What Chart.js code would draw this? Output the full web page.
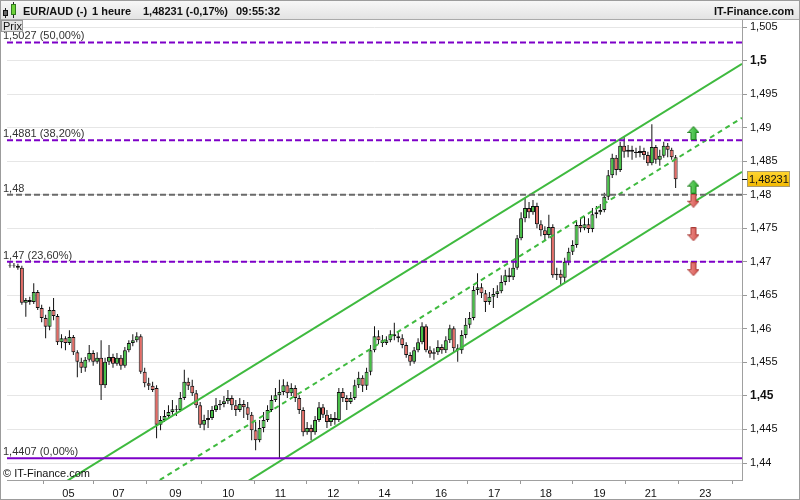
<!DOCTYPE html>
<html><head><meta charset="utf-8">
<script src="https://cdn.jsdelivr.net/npm/chart.js@4.4.0/dist/chart.umd.min.js"></script>
<style>html,body{margin:0;padding:0;background:#fff;}#wrap{width:800px;height:500px;position:relative;}canvas{display:block;}</style>
</head><body><div id="wrap"><canvas id="c" width="800" height="500"></canvas></div>
<script>
const opens=[1.4694,1.4695,1.4694,1.4691,1.4639,1.4643,1.4640,1.4655,1.4631,1.4616,
1.4603,1.4628,1.4619,1.4580,1.4586,1.4579,1.4588,1.4565,1.4551,1.4542,
1.4554,1.4564,1.4551,1.4557,1.4516,1.4551,1.4558,1.4548,1.4557,1.4545,
1.4568,1.4579,1.4583,1.4589,1.4536,1.4519,1.4515,1.4512,1.4457,1.4464,
1.4470,1.4476,1.4480,1.4479,1.4497,1.4521,1.4515,1.4504,1.4486,1.4457,
1.4464,1.4467,1.4479,1.4486,1.4488,1.4492,1.4497,1.4486,1.4479,1.4488,
1.4483,1.4472,1.4449,1.4434,1.4452,1.4464,1.4479,1.4494,1.4501,1.4506,
1.4516,1.4504,1.4512,1.4497,1.4479,1.4446,1.4452,1.4446,1.4464,1.4483,
1.4472,1.4461,1.4467,1.4464,1.4506,1.4497,1.4491,1.4497,1.4516,1.4527,
1.4515,1.4536,1.4568,1.4589,1.4583,1.4579,1.4583,1.4592,1.4589,1.4586,
1.4576,1.4561,1.4551,1.4568,1.4580,1.4604,1.4568,1.4563,1.4565,1.4573,
1.4568,1.4583,1.4601,1.4571,1.4568,1.4591,1.4606,1.4616,1.4658,1.4662,
1.4653,1.4640,1.4648,1.4652,1.4656,1.4670,1.4680,1.4677,1.4691,1.4735,
1.4765,1.4780,1.4774,1.4783,1.4756,1.4747,1.4740,1.4752,1.4680,1.4682,
1.4676,1.4700,1.4715,1.4725,1.4755,1.4750,1.4756,1.4749,1.4771,1.4774,
1.4777,1.4797,1.4829,1.4855,1.4837,1.4873,1.4864,1.4867,1.4864,1.4862,
1.4865,1.4859,1.4847,1.4871,1.4852,1.4858,1.4873,1.4867,1.4856];
const highs=[1.4700,1.4698,1.4697,1.4694,1.4646,1.4648,1.4668,1.4658,1.4636,1.4621,
1.4633,1.4646,1.4622,1.4592,1.4589,1.4598,1.4591,1.4568,1.4557,1.4558,
1.4576,1.4568,1.4565,1.4583,1.4557,1.4576,1.4563,1.4564,1.4561,1.4573,
1.4583,1.4592,1.4595,1.4592,1.4542,1.4527,1.4521,1.4516,1.4470,1.4479,
1.4486,1.4494,1.4486,1.4506,1.4539,1.4527,1.4524,1.4509,1.4491,1.4472,
1.4479,1.4485,1.4497,1.4494,1.4500,1.4509,1.4501,1.4494,1.4497,1.4494,
1.4491,1.4476,1.4461,1.4464,1.4476,1.4486,1.4501,1.4512,1.4524,1.4525,
1.4521,1.4519,1.4516,1.4501,1.4483,1.4461,1.4457,1.4470,1.4491,1.4488,
1.4479,1.4473,1.4476,1.4512,1.4512,1.4501,1.4506,1.4524,1.4536,1.4531,
1.4542,1.4576,1.4604,1.4598,1.4591,1.4589,1.4598,1.4609,1.4595,1.4592,
1.4580,1.4565,1.4573,1.4586,1.4610,1.4607,1.4574,1.4571,1.4583,1.4577,
1.4589,1.4606,1.4604,1.4577,1.4598,1.4616,1.4625,1.4664,1.4683,1.4668,
1.4658,1.4655,1.4661,1.4665,1.4680,1.4688,1.4691,1.4700,1.4740,1.4774,
1.4795,1.4789,1.4792,1.4788,1.4762,1.4753,1.4770,1.4756,1.4691,1.4688,
1.4706,1.4721,1.4732,1.4762,1.4765,1.4768,1.4765,1.4780,1.4783,1.4786,
1.4803,1.4837,1.4861,1.4859,1.4879,1.4886,1.4874,1.4873,1.4870,1.4873,
1.4870,1.4864,1.4905,1.4874,1.4867,1.4879,1.4877,1.4870,1.4859];
const lows=[1.4691,1.4691,1.4688,1.4636,1.4618,1.4636,1.4637,1.4628,1.4610,1.4586,
1.4598,1.4613,1.4576,1.4571,1.4568,1.4576,1.4561,1.4528,1.4534,1.4536,
1.4551,1.4545,1.4548,1.4494,1.4512,1.4546,1.4542,1.4545,1.4539,1.4542,
1.4565,1.4574,1.4580,1.4533,1.4513,1.4509,1.4506,1.4437,1.4449,1.4461,
1.4467,1.4472,1.4470,1.4476,1.4494,1.4509,1.4500,1.4482,1.4452,1.4449,
1.4452,1.4464,1.4476,1.4479,1.4483,1.4488,1.4479,1.4470,1.4476,1.4467,
1.4464,1.4434,1.4419,1.4431,1.4446,1.4461,1.4476,1.4491,1.4407,1.4501,
1.4497,1.4500,1.4491,1.4473,1.4440,1.4442,1.4434,1.4442,1.4461,1.4467,
1.4452,1.4455,1.4457,1.4461,1.4491,1.4479,1.4488,1.4494,1.4512,1.4506,
1.4509,1.4531,1.4565,1.4577,1.4573,1.4576,1.4580,1.4583,1.4580,1.4571,
1.4557,1.4545,1.4548,1.4565,1.4577,1.4565,1.4557,1.4554,1.4561,1.4563,
1.4564,1.4579,1.4565,1.4551,1.4563,1.4586,1.4601,1.4613,1.4651,1.4646,
1.4625,1.4636,1.4631,1.4646,1.4653,1.4665,1.4670,1.4673,1.4688,1.4732,
1.4759,1.4765,1.4770,1.4750,1.4738,1.4732,1.4735,1.4676,1.4673,1.4665,
1.4670,1.4695,1.4710,1.4721,1.4744,1.4747,1.4743,1.4744,1.4765,1.4770,
1.4774,1.4792,1.4825,1.4829,1.4834,1.4855,1.4856,1.4852,1.4855,1.4856,
1.4852,1.4843,1.4844,1.4846,1.4843,1.4855,1.4856,1.4852,1.4810];
const closes=[1.4695,1.4694,1.4691,1.4639,1.4643,1.4640,1.4655,1.4631,1.4616,1.4603,
1.4628,1.4619,1.4580,1.4586,1.4579,1.4588,1.4565,1.4551,1.4542,1.4554,
1.4564,1.4551,1.4557,1.4516,1.4551,1.4558,1.4548,1.4557,1.4545,1.4568,
1.4579,1.4583,1.4589,1.4536,1.4519,1.4515,1.4509,1.4457,1.4464,1.4470,
1.4476,1.4480,1.4479,1.4497,1.4521,1.4515,1.4504,1.4486,1.4457,1.4464,
1.4467,1.4479,1.4486,1.4488,1.4492,1.4497,1.4486,1.4479,1.4488,1.4483,
1.4472,1.4449,1.4434,1.4452,1.4464,1.4479,1.4494,1.4501,1.4506,1.4516,
1.4504,1.4512,1.4497,1.4479,1.4446,1.4452,1.4446,1.4464,1.4483,1.4472,
1.4461,1.4467,1.4464,1.4506,1.4497,1.4491,1.4497,1.4516,1.4527,1.4515,
1.4536,1.4568,1.4589,1.4583,1.4579,1.4583,1.4592,1.4589,1.4586,1.4576,
1.4561,1.4551,1.4568,1.4580,1.4604,1.4568,1.4563,1.4565,1.4573,1.4568,
1.4583,1.4601,1.4571,1.4568,1.4591,1.4606,1.4616,1.4658,1.4662,1.4653,
1.4640,1.4648,1.4652,1.4656,1.4670,1.4680,1.4677,1.4691,1.4735,1.4765,
1.4780,1.4774,1.4783,1.4756,1.4747,1.4740,1.4752,1.4680,1.4682,1.4676,
1.4700,1.4715,1.4725,1.4755,1.4750,1.4756,1.4749,1.4771,1.4774,1.4777,
1.4797,1.4829,1.4855,1.4837,1.4873,1.4864,1.4867,1.4864,1.4862,1.4865,
1.4859,1.4847,1.4871,1.4852,1.4858,1.4873,1.4867,1.4856,1.48231];

const dayTickPositions=[14.75,27.4,41.75,55.1,68.25,81.6,94.5,108.8,122.2,135.25,148.8,161.75,175.5];
const dayTickLabels=['05','07','09','10','11','12','14','16','17','18','19','21','23'];
const priceTicks=[1.44,1.445,1.45,1.455,1.46,1.465,1.47,1.475,1.48,1.485,1.49,1.495,1.5,1.505];
const boldTicks=[1.45,1.5];
const fibLevels=[1.5027,1.4881,1.48,1.47,1.4407];
const fibLabels=['1,5027 (50,00%)','1,4881 (38,20%)','1,48','1,47 (23,60%)','1,4407 (0,00%)'];
const fibKinds=['purple','purple','gray','purple','solid'];
const channelX=[-0.75,184.75];
const channelUpper=[1.4318,1.4995];
const channelMid=[1.4233,1.49145];
const channelLower=[1.4148,1.4834];
const signalX=172.5;
const signalPrices=[1.4892,1.4812,1.4791,1.4741,1.4689];
const signalDirs=['up','up','down','down','down'];
const lastPrice=1.48231;
const headerParts=['EUR/AUD (-)','1 heure','1,48231 (-0,17%)','09:55:32'];
const brandText='IT-Finance.com';
const copyText='\u00A9 IT-Finance.com';
const prixText='Prix';

const FONT='"Liberation Sans", Arial, sans-serif';
Chart.defaults.font.family=FONT;

function fmtPrice(v){return String(Number(v.toFixed(5))).replace('.',',');}

function makeArrow(dir){
  const c=document.createElement('canvas');c.width=12;c.height=14;
  const g=c.getContext('2d');
  g.beginPath();
  if(dir==='up'){
    g.moveTo(6,0.5);g.lineTo(11.5,6.5);g.lineTo(8.5,6.5);g.lineTo(8.5,13.5);g.lineTo(3.5,13.5);g.lineTo(3.5,6.5);g.lineTo(0.5,6.5);
  }else{
    g.moveTo(6,13.5);g.lineTo(11.5,7.5);g.lineTo(8.5,7.5);g.lineTo(8.5,0.5);g.lineTo(3.5,0.5);g.lineTo(3.5,7.5);g.lineTo(0.5,7.5);
  }
  g.closePath();
  const gr=g.createLinearGradient(0,0,12,0);
  if(dir==='up'){gr.addColorStop(0,'#7fe07f');gr.addColorStop(1,'#22a822');g.strokeStyle='#1d7f1d';}
  else{gr.addColorStop(0,'#f29a96');gr.addColorStop(1,'#d24c46');g.strokeStyle='#a83a35';}
  g.fillStyle=gr;g.fill();g.lineWidth=1;g.stroke();
  return c;
}
const upImg=makeArrow('up'), downImg=makeArrow('down');

const idx=closes.map((_,i)=>i);
const wickData=idx.map(i=>({x:i,y:[lows[i],highs[i]]}));
const bodyData=idx.map(i=>({x:i,y:[Math.min(opens[i],closes[i]),Math.max(opens[i],closes[i])]}));
const bodyColors=idx.map(i=>closes[i]>=opens[i]?'#45c245':'#e56a64');

const lineDatasets=[];
fibLevels.forEach((lv,k)=>{
  const kind=fibKinds[k];
  lineDatasets.push({type:'line',data:channelX.map(x=>({x:x,y:lv})),
    borderColor:kind==='gray'?'#6a6a6a':'#7d00c8',borderWidth:2,
    borderDash:kind==='solid'?[]:[6,3],pointRadius:0,order:0,borderCapStyle:'butt'});
});
[[channelUpper,[]],[channelMid,[5,4]],[channelLower,[]]].forEach(([arr,dash])=>{
  lineDatasets.push({type:'line',data:channelX.map((x,j)=>({x:x,y:arr[j]})),
    borderColor:'#3fba3f',borderWidth:2,borderDash:dash,pointRadius:0,order:0,borderCapStyle:'butt'});
});

const decor={
  id:'decor',
  beforeDraw(chart){
    const ctx=chart.ctx;ctx.save();
    ctx.fillStyle='#fff';ctx.fillRect(0,0,800,500);
    const g=ctx.createLinearGradient(0,0,0,20);
    g.addColorStop(0,'#f8f8f8');g.addColorStop(1,'#e2e2e2');
    ctx.fillStyle=g;ctx.fillRect(0,0,800,20);
    ctx.fillStyle='#aaaaaa';ctx.fillRect(0,19,800,1);
    ctx.restore();
  },
  afterDatasetsDraw(chart){
    const ctx=chart.ctx,ys=chart.scales.y;ctx.save();
    ctx.font='11px '+FONT;ctx.fillStyle='#333';ctx.textBaseline='alphabetic';ctx.textAlign='left';
    fibLevels.forEach((lv,k)=>{ctx.fillText(fibLabels[k],3,ys.getPixelForValue(lv)-3);});
    ctx.restore();
  },
  afterDraw(chart){
    const ctx=chart.ctx,ys=chart.scales.y;ctx.save();
    // header icon
    ctx.fillStyle='#222';ctx.fillRect(5,8,1,10);
    ctx.fillStyle='#666';ctx.fillRect(3,10,5,6);ctx.strokeStyle='#111';ctx.lineWidth=1;ctx.strokeRect(3.5,10.5,4,5);
    ctx.fillStyle='#222';ctx.fillRect(13,2,1,16);
    ctx.fillStyle='#6fd23a';ctx.fillRect(11,4,5,11);ctx.strokeStyle='#2f7a1c';ctx.strokeRect(11.5,4.5,4,10);
    // header text
    ctx.font='bold 11px '+FONT;ctx.fillStyle='#111';ctx.textBaseline='alphabetic';ctx.textAlign='left';
    const hx=[23,92,143,236];
    headerParts.forEach((t,k)=>ctx.fillText(t,hx[k],15));
    ctx.textAlign='right';ctx.fillText(brandText,794,15);
    // Prix box
    ctx.fillStyle='#e4e4e4';ctx.fillRect(1,20,22,12);
    ctx.strokeStyle='#9a9a9a';ctx.strokeRect(1.5,20.5,21,11);
    ctx.font='11px '+FONT;ctx.fillStyle='#111';ctx.textAlign='left';ctx.fillText(prixText,3,30);
    // copyright
    ctx.fillStyle='#111';ctx.fillText(copyText,3,477);
    // last price tag
    const py=Math.round(ys.getPixelForValue(lastPrice));
    ctx.fillStyle='#000';ctx.fillRect(742,py,5,1);
    const tg=ctx.createLinearGradient(0,py-8,0,py+8);
    tg.addColorStop(0,'#ffd633');tg.addColorStop(1,'#f2b800');
    ctx.fillStyle=tg;ctx.fillRect(747,py-8,43,16);
    ctx.strokeStyle='#a89a70';ctx.strokeRect(747.5,py-7.5,42,15);
    ctx.fillStyle='#111';ctx.textBaseline='middle';ctx.fillText(fmtPrice(lastPrice),749,py+1);
    // outer border
    ctx.strokeStyle='#9c9c9c';ctx.lineWidth=1;ctx.strokeRect(0.5,0.5,799,499);
    ctx.restore();
  }
};

new Chart(document.getElementById('c'),{
  type:'bar',
  data:{datasets:[
    {type:'line',data:signalPrices.map(p=>({x:signalX,y:p})),showLine:false,
     pointStyle:signalDirs.map(d=>d==='up'?upImg:downImg),pointRadius:6,order:-1},
    ...lineDatasets,
    {type:'bar',data:bodyData,backgroundColor:bodyColors,borderColor:'#111',borderWidth:1,
     borderSkipped:false,barThickness:4,grouped:false,inflateAmount:0,order:1},
    {type:'bar',data:wickData,backgroundColor:'#111',borderWidth:0,
     barThickness:1,grouped:false,inflateAmount:0,order:2}
  ]},
  options:{
    responsive:false,devicePixelRatio:1,animation:false,
    layout:{padding:{top:20,left:0,right:0,bottom:0}},
    plugins:{legend:{display:false},tooltip:{enabled:false}},
    scales:{
      x:{type:'linear',min:channelX[0],max:channelX[1],offset:false,
        afterBuildTicks:s=>{s.ticks=dayTickPositions.map(v=>({value:v}));},
        afterFit:s=>{s.height=20;},
        ticks:{autoSkip:false,maxRotation:0,padding:3,color:'#111',font:{size:11},
          callback:(v,i)=>dayTickLabels[i]},
        grid:{drawOnChartArea:false,drawTicks:true,tickLength:4,tickColor:'#999'},
        border:{display:true,color:'#a0a0a0'}},
      y:{type:'linear',position:'right',min:1.437466,max:1.506044,beginAtZero:false,
        afterBuildTicks:s=>{s.ticks=priceTicks.map(v=>({value:v}));},
        afterFit:s=>{s.width=58;},
        ticks:{autoSkip:false,padding:3,color:'#111',
          font:c=>{const b=c.tick&&boldTicks.some(t=>Math.abs(t-c.tick.value)<1e-6);return {size:b?12:11,weight:b?'bold':'normal'};},
          callback:v=>fmtPrice(v)},
        grid:{color:'#e6e6e6',lineWidth:1,drawTicks:true,tickLength:5,tickColor:'#999'},
        border:{display:true,color:'#a0a0a0'}}
    }
  },
  plugins:[decor]
});
</script></body></html>
